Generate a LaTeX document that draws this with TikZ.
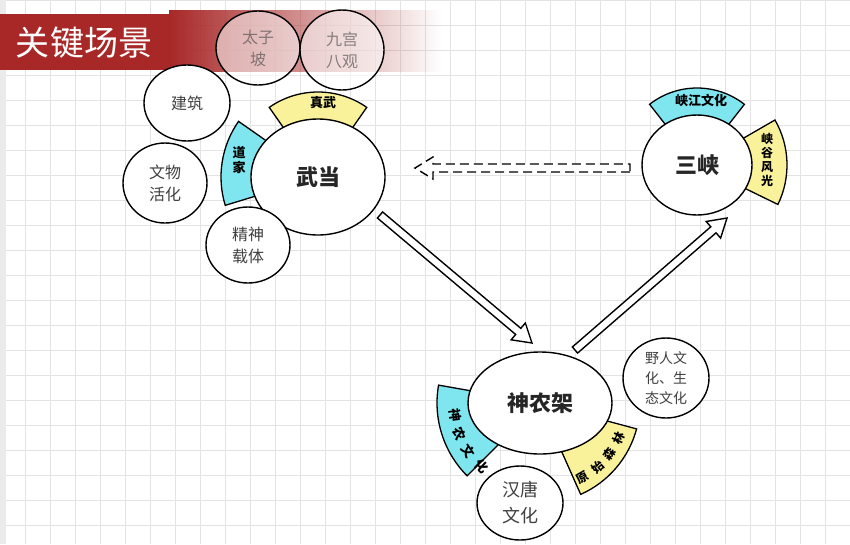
\documentclass[tikz,border=0pt]{standalone}
\usepackage{fontspec}
\setmainfont{Noto Sans CJK SC}
\usetikzlibrary{calc,fadings,shapes.geometric}
\definecolor{brush}{HTML}{A82828}
\definecolor{cy}{HTML}{7FE6F0}
\definecolor{yl}{HTML}{FAF29A}
\newcommand\hollowarrow[3]{%
  \draw[fill=white,line width=1.4pt,line join=miter,#3] let \p1=($(#2)-(#1)$), \n1={atan2(\y1,\x1)}, \n2={veclen(\x1,\y1)} in
   [shift={(#1)}, rotate=\n1] (0,-4)--(\n2-18,-4)--(\n2-18,-11)--(\n2,0)--(\n2-18,11)--(\n2-18,4)--(0,4)--cycle;}
\newcommand\band[6]{% center, a1, a2, r1, r2, color
  \draw[fill=#6,line width=1.3pt] ($(#1)+(#2:#4)$) arc[start angle=#2,end angle=#3,radius=#4]
   -- ($(#1)+(#3:#5)$) arc[start angle=#3,end angle=#2,radius=#5] -- cycle;}
\begin{document}
\begin{tikzpicture}[x=1pt,y=-1pt,
  ell/.style={draw,line width=1.4pt,fill=white,ellipse,inner sep=0pt,align=center,font=\fontsize{16}{22}\selectfont,text=black!75},
  main/.style={ell,font=\fontsize{22}{26}\selectfont\bfseries,text=black!85},
  blab/.style={font=\fontsize{13}{15}\selectfont\bfseries,align=center,inner sep=0pt}]
\useasboundingbox (0,0) rectangle (850,544);
\fill[white] (0,0) rectangle (850,544);
\foreach \i in {0,25,...,850} \draw[gray!22,line width=0.6pt] (\i,0) -- (\i,544);
\foreach \j in {0,25,...,544} \draw[gray!22,line width=0.6pt] (0,\j) -- (850,\j);
\fill[black!8] (0,0) rectangle (6,544);
% brush banner
\fill[brush] (0,14) rectangle (170,70);
\fill[brush,path fading=east] (169,10) rectangle (440,72);
\node[text=white,font=\fontsize{34}{36}\selectfont] (title) at (84,43) {关键场景};
% Wudang
\coordinate (wc) at (318,177);
\band{wc}{235}{305}{48}{85}{yl}
\band{wc}{163}{215}{48}{97}{cy}
\node[main,minimum width=134pt,minimum height=116pt] (wudang) at (wc) {武当};
\node[blab] (zhenwu) at (323,103) {真武};
\node[blab] (daojia) at (239,160) {道\\家};
\node[ell,minimum width=84pt,minimum height=74pt,fill opacity=0.55,text opacity=0.6] (taizi) at (258,48) {太子\\坡};
\node[ell,minimum width=84pt,minimum height=80pt,fill opacity=0.55,text opacity=0.6] (jiugong) at (342,50) {九宫\\八观};
\node[ell,minimum width=86pt,minimum height=76pt] (jianzhu) at (187,103) {建筑};
\node[ell,minimum width=84pt,minimum height=80pt] (wenwu) at (165,183) {文物\\活化};
\node[ell,minimum width=84pt,minimum height=76pt] (jingshen) at (248,245) {精神\\载体};
% Sanxia
\coordinate (sc) at (697,165);
\band{sc}{232}{308}{40}{77}{cy}
\band{sc}{-30}{26}{40}{90}{yl}
\node[main,minimum width=110pt,minimum height=100pt] (sanxia) at (sc) {三峡};
\node[blab] (xiajiang) at (701,100) {峡江文化};
\node[blab,font=\fontsize{12}{14}\selectfont\bfseries] (xiagu) at (767,160) {峡\\谷\\风\\光};
% Shennongjia
\coordinate (nc) at (540,403);
\band{nc}{135}{190}{45}{103}{cy}
\band{nc}{15}{66}{45}{100}{yl}
\node[main,minimum width=144pt,minimum height=102pt] (snj) at (nc) {神农架};
\foreach \c/\a [count=\k] in {神/172,农/159,文/146,化/133}
  \node[blab,rotate=90-\a] (sn\k) at ($(nc)+(\a:86)$) {\c};
\foreach \c/\a [count=\k] in {原/60,始/48,森/36,林/24}
  \node[blab,font=\fontsize{12}{14}\selectfont\bfseries,rotate=90-\a] (ys\k) at ($(nc)+(\a:86)$) {\c};
\node[ell,minimum width=86pt,minimum height=80pt,font=\fontsize{14}{20}\selectfont] (yeren) at (666,378) {野人文\\化、生\\态文化};
\node[ell,minimum width=86pt,minimum height=74pt,font=\fontsize{18}{26}\selectfont] (hantang) at (520,503) {汉唐\\文化};
% arrows
\coordinate (a1s) at (380,215); \coordinate (a1e) at (532,343);
\coordinate (a2s) at (575,350); \coordinate (a2e) at (727,218);
\coordinate (a3s) at (630,168); \coordinate (a3e) at (415,168);
\hollowarrow{a1s}{a1e}{}
\hollowarrow{a2s}{a2e}{}
\hollowarrow{a3s}{a3e}{dashed,dash pattern=on 9pt off 5pt}
\end{tikzpicture}
\end{document}
